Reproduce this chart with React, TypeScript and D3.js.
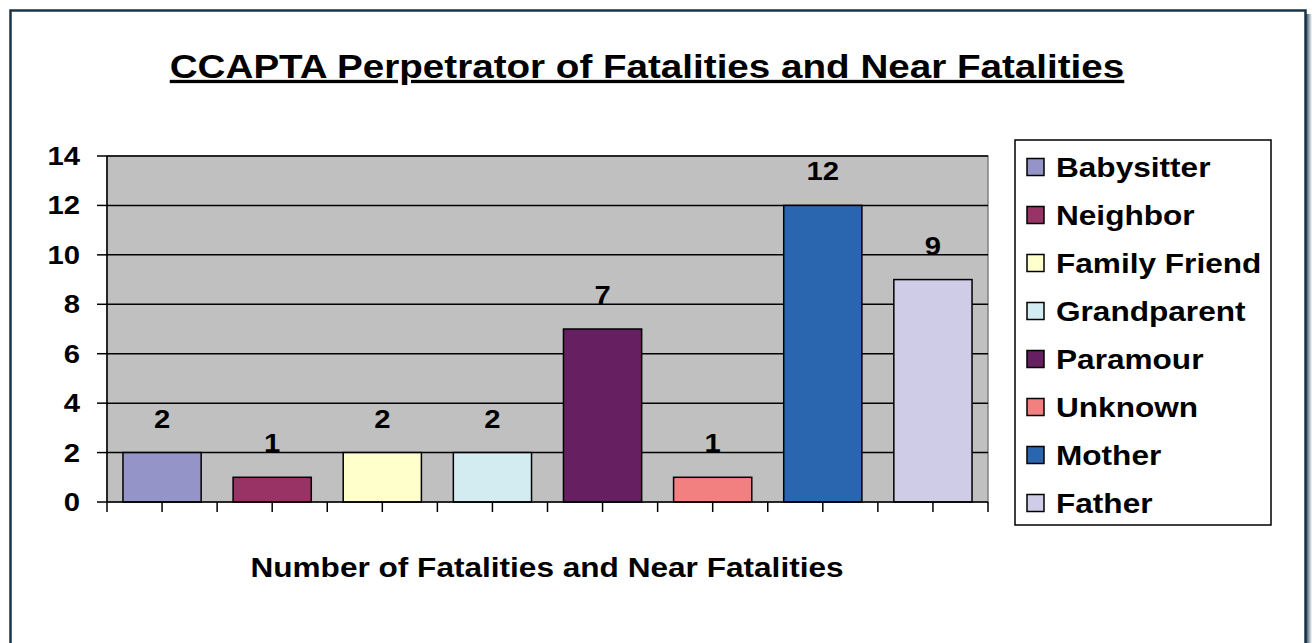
import React from "react";
import * as d3 from "d3";

const categories = ["Babysitter", "Neighbor", "Family Friend", "Grandparent", "Paramour", "Unknown", "Mother", "Father"];
const values = [2, 1, 2, 2, 7, 1, 12, 9];
const colors = ["#9494C8", "#993366", "#FFFFCC", "#D2ECF1", "#661F60", "#F28080", "#2A66B0", "#CFCCE8"];
const yTicks = [0, 2, 4, 6, 8, 10, 12, 14];
const title = "CCAPTA Perpetrator of Fatalities and Near Fatalities";
const xTitle = "Number of Fatalities and Near Fatalities";

const W = 1312, H = 643;
const plot = { left: 107, right: 988, top: 156, bottom: 502 };
const FONT = "'Liberation Sans', Arial, sans-serif";
const SX = 1.17;

function T(props: { x: number; y: number; size: number; anchor?: string; dy?: string; underline?: boolean; children: React.ReactNode }) {
  return (
    <text
      transform={`translate(${props.x},${props.y}) scale(${SX},1)`}
      dy={props.dy}
      textAnchor={props.anchor || "start"}
      fontSize={props.size}
      fontWeight="bold"
      textDecoration={props.underline ? "underline" : undefined}
    >
      {props.children}
    </text>
  );
}

export default function App() {
  const x = d3.scaleBand<string>().domain(categories).range([plot.left, plot.right]).paddingInner(0).paddingOuter(0);
  const y = d3.scaleLinear().domain([0, 14]).range([plot.bottom, plot.top]);
  const bw = x.bandwidth();
  const barW = bw * 0.71;
  const xTickPositions: number[] = [];
  categories.forEach((c) => {
    xTickPositions.push(x(c)!);
    xTickPositions.push(x(c)! + bw / 2);
  });
  xTickPositions.push(plot.right);

  return (
    <svg width={W} height={H} style={{ position: "fixed", top: 0, left: 0 }} fontFamily={FONT}>
      <defs>
        <linearGradient id="shadow" x1="0" x2="1" y1="0" y2="0">
          <stop offset="0" stopColor="#2d4a5e" />
          <stop offset="1" stopColor="#ffffff" />
        </linearGradient>
      </defs>
      <rect x={0} y={0} width={W} height={H} fill="#ffffff" />
      <rect x={1306} y={14} width={6} height={H} fill="url(#shadow)" />
      <rect x={10.5} y={10.5} width={1295} height={H + 10} fill="#ffffff" stroke="#1b3346" strokeWidth={2.5} />

      <T x={647} y={78} size={33} anchor="middle" underline>
        {title}
      </T>

      <rect x={plot.left} y={plot.top} width={plot.right - plot.left} height={plot.bottom - plot.top} fill="#C0C0C0" stroke="#808080" strokeWidth={1.5} />
      {yTicks.map((t) => (
        <g key={t}>
          {t > 0 && <line x1={plot.left} x2={plot.right} y1={y(t)} y2={y(t)} stroke="#000" strokeWidth={1.5} />}
          <line x1={plot.left - 10} x2={plot.left} y1={y(t)} y2={y(t)} stroke="#000" strokeWidth={1.5} />
          <T x={80} y={y(t)} dy="0.36em" anchor="end" size={25}>
            {t}
          </T>
        </g>
      ))}

      {categories.map((c, i) => (
        <g key={c}>
          <rect
            x={x(c)! + (bw - barW) / 2}
            y={y(values[i])}
            width={barW}
            height={y(0) - y(values[i])}
            fill={colors[i]}
            stroke="#000"
            strokeWidth={1.5}
          />
          <T x={x(c)! + bw / 2} y={y(values[i]) - 25} anchor="middle" size={25}>
            {values[i]}
          </T>
        </g>
      ))}

      <line x1={plot.left} x2={plot.left} y1={plot.top} y2={plot.bottom} stroke="#000" strokeWidth={1.5} />
      <line x1={plot.left} x2={plot.right} y1={plot.bottom} y2={plot.bottom} stroke="#000" strokeWidth={1.5} />
      {xTickPositions.map((p, i) => (
        <line key={i} x1={p} x2={p} y1={plot.bottom} y2={plot.bottom + 10} stroke="#000" strokeWidth={1.5} />
      ))}

      <T x={547} y={577} anchor="middle" size={27}>
        {xTitle}
      </T>

      <rect x={1015} y={140} width={256} height={385} fill="#fff" stroke="#000" strokeWidth={1.5} />
      {categories.map((c, i) => {
        const cy = 167 + i * 48;
        return (
          <g key={c}>
            <rect x={1027} y={cy - 8.5} width={17} height={17} fill={colors[i]} stroke="#000" strokeWidth={1.5} />
            <T x={1056} y={cy} dy="0.36em" size={27}>
              {c}
            </T>
          </g>
        );
      })}
    </svg>
  );
}
